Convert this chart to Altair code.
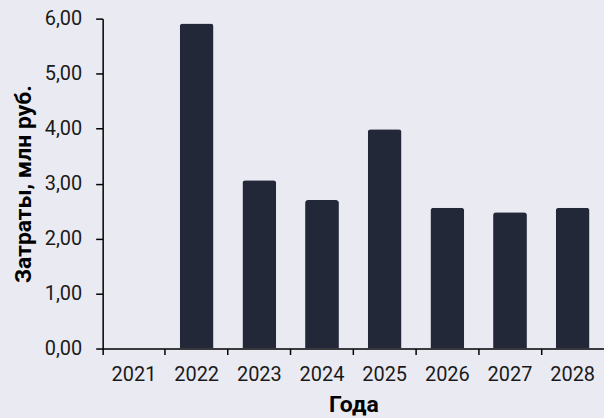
import altair as alt
import pandas as pd

years = ["2021", "2022", "2023", "2024", "2025", "2026", "2027", "2028"]
costs = [0.0, 5.91, 3.06, 2.70, 3.99, 2.56, 2.48, 2.56]
y_ticks = [0, 1, 2, 3, 4, 5, 6]

df = pd.DataFrame({"year": years, "cost": costs})

W = 503
H = 331

chart = (
    alt.Chart(df)
    .mark_bar(color="#232839", width=alt.RelativeBandSize(0.54),
              cornerRadiusTopLeft=3, cornerRadiusTopRight=3)
    .encode(
        x=alt.X("year:N", sort=years,
                scale=alt.Scale(paddingInner=0, paddingOuter=0),
                axis=alt.Axis(title="Года", labelAngle=0, bandPosition=0,
                              tickSize=6, labelPadding=10, titlePadding=9)),
        y=alt.Y("cost:Q", scale=alt.Scale(domain=[0, 6], nice=False),
                axis=alt.Axis(title="Затраты, млн руб.", values=y_ticks,
                              labelExpr="replace(format(datum.value, '.2f'), '.', ',')",
                              tickSize=7, labelPadding=14, grid=False, titlePadding=9)),
    )
    .properties(
        width=W, height=H, background="#EAEAF2",
        autosize=alt.AutoSizeParams(type="none"),
        padding={"left": 103, "top": 18, "right": 0, "bottom": 69},
    )
    .configure_view(stroke=None, fill="#EAEAF2")
    .configure_axis(
        domainColor="#000000", domainWidth=1.5, tickColor="#000000", tickWidth=1.5,
        labelFont="Roboto", labelFontSize=20, labelColor="#1a1a1a",
        titleFont="Roboto", titleFontSize=23, titleFontWeight="bold", titleColor="#000000",
        grid=False,
    )
)

chart.save("out.html", embed_options={"renderer": "svg", "actions": False})
